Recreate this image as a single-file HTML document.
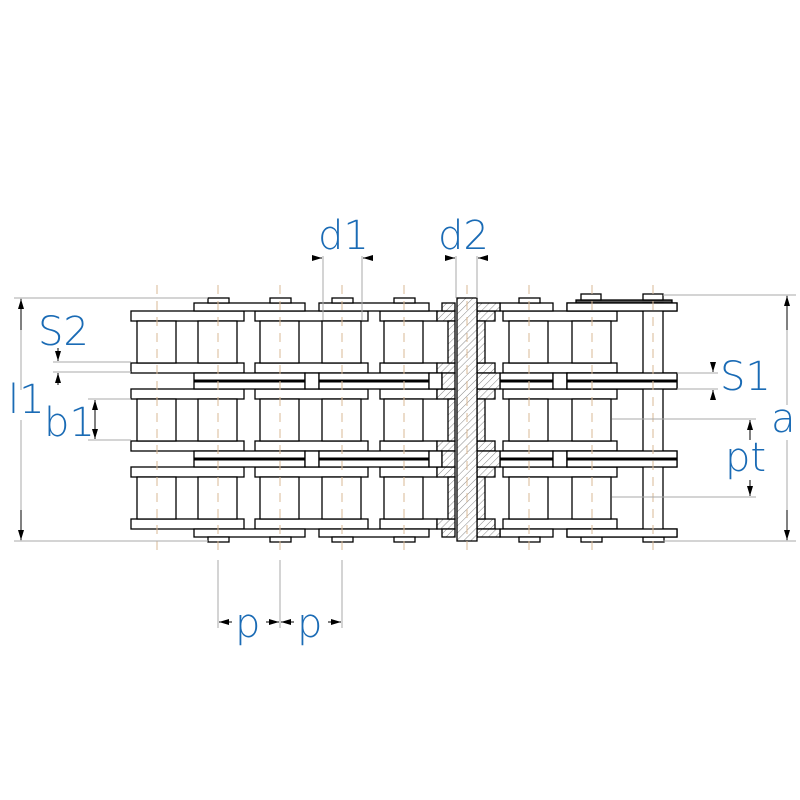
<!DOCTYPE html>
<html><head><meta charset="utf-8"><style>
html,body{margin:0;padding:0;background:#fff}
svg{display:block}
text{font-family:"DejaVu Sans","Liberation Sans",sans-serif;font-weight:200;fill:#1a6bb5;font-size:40px}
</style></head><body>
<svg width="800" height="800" viewBox="0 0 800 800" xmlns="http://www.w3.org/2000/svg">
<defs>
<pattern id="h" patternUnits="userSpaceOnUse" width="5" height="5" patternTransform="rotate(45)">
<rect width="5" height="5" fill="#fff"/><line x1="0" y1="0" x2="0" y2="5" stroke="#888" stroke-width="1"/>
</pattern>
<marker id="ar" viewBox="0 0 10 6" refX="10" refY="3" markerWidth="10" markerHeight="6" markerUnits="userSpaceOnUse" orient="auto">
<path d="M0,0 L10,3 L0,6 z" fill="#000"/></marker>
<g id="row" stroke="#000" stroke-width="1.3">
<g fill="#fff">
<rect x="131" y="311" width="113" height="10"/><rect x="255" y="311" width="113" height="10"/><rect x="380" y="311" width="57" height="10"/><rect x="503" y="311" width="114" height="10"/>
<rect x="131" y="363" width="113" height="10"/><rect x="255" y="363" width="113" height="10"/><rect x="380" y="363" width="57" height="10"/><rect x="503" y="363" width="114" height="10"/>
<rect x="137" y="321" width="39" height="42"/><rect x="198" y="321" width="39" height="42"/><rect x="260" y="321" width="39" height="42"/><rect x="322" y="321" width="39" height="42"/><rect x="384" y="321" width="39" height="42"/><rect x="509" y="321" width="39" height="42"/><rect x="572" y="321" width="39" height="42"/>
</g>
<g fill="url(#h)">
<rect x="437" y="311" width="18" height="10"/><rect x="437" y="363" width="18" height="10"/><rect x="448" y="321" width="7" height="42"/>
<rect x="477" y="311" width="18" height="10"/><rect x="477" y="363" width="18" height="10"/><rect x="477" y="321" width="8" height="42"/>
</g>
</g>
<g id="mid" stroke="#000" stroke-width="1.3">
<g fill="#fff">
<rect x="194" y="373" width="111" height="16"/><rect x="305" y="373" width="14" height="16"/><rect x="319" y="373" width="110" height="16"/><rect x="429" y="373" width="13" height="16"/>
<rect x="500" y="373" width="53" height="16"/><rect x="553" y="373" width="14" height="16"/><rect x="567" y="373" width="110" height="16"/>
</g>
<g fill="url(#h)"><rect x="442" y="373" width="13" height="16"/><rect x="477" y="373" width="23" height="16"/></g>
<g stroke-width="3"><line x1="194" y1="381" x2="305" y2="381"/><line x1="319" y1="381" x2="429" y2="381"/><line x1="500" y1="381" x2="553" y2="381"/><line x1="567" y1="381" x2="677" y2="381"/></g>
</g>
<g id="strip" stroke="#000" stroke-width="1.3">
<g fill="#fff"><rect x="194" y="303" width="111" height="8"/><rect x="319" y="303" width="110" height="8"/><rect x="500" y="303" width="53" height="8"/><rect x="567" y="303" width="110" height="8"/></g>
<g fill="url(#h)"><rect x="442" y="303" width="13" height="8"/><rect x="477" y="303" width="23" height="8"/></g>
</g>
</defs>

<use href="#row"/>
<use href="#row" y="78"/>
<use href="#row" y="156"/>
<use href="#strip"/>
<use href="#strip" y="226"/>
<use href="#mid"/>
<use href="#mid" y="78"/>

<!-- pin heads -->
<g stroke="#000" stroke-width="1.3" fill="#fff">
<rect x="208" y="298" width="21" height="5"/><rect x="270" y="298" width="21" height="5"/><rect x="332" y="298" width="21" height="5"/><rect x="394" y="298" width="21" height="5"/><rect x="519" y="298" width="21" height="5"/>
<rect x="208" y="537" width="21" height="5"/><rect x="270" y="537" width="21" height="5"/><rect x="332" y="537" width="21" height="5"/><rect x="394" y="537" width="21" height="5"/><rect x="519" y="537" width="21" height="5"/><rect x="581" y="537" width="21" height="5"/><rect x="643" y="537" width="21" height="5"/>
<rect x="576" y="300" width="96" height="3" fill="#555"/>
<rect x="581" y="294" width="20" height="6"/><rect x="643" y="294" width="20" height="6"/>
<rect x="643" y="303" width="20" height="234"/>
<rect x="457" y="298" width="20" height="243" fill="url(#h)"/>
</g>
<g stroke="#000" stroke-width="1.3" fill="#fff">
<rect x="567" y="303" width="110" height="8"/><rect x="567" y="529" width="110" height="8"/>
<rect x="567" y="373" width="110" height="16"/><rect x="567" y="451" width="110" height="16"/>
<line x1="567" y1="381" x2="677" y2="381" stroke-width="3"/><line x1="567" y1="459" x2="677" y2="459" stroke-width="3"/>
</g>

<!-- centerlines on top -->
<g stroke="#d8b896" stroke-width="1" stroke-dasharray="9,7">
<line x1="157" y1="285" x2="157" y2="556"/><line x1="218" y1="285" x2="218" y2="556"/><line x1="280" y1="285" x2="280" y2="556"/><line x1="342" y1="285" x2="342" y2="556"/><line x1="404" y1="285" x2="404" y2="556"/><line x1="467" y1="285" x2="467" y2="556"/><line x1="529" y1="285" x2="529" y2="556"/><line x1="592" y1="285" x2="592" y2="556"/><line x1="653" y1="285" x2="653" y2="556"/>
</g>

<!-- dimension lines -->
<g stroke="#aaa" stroke-width="1" fill="none">
<line x1="14" y1="298" x2="208" y2="298"/><line x1="14" y1="541" x2="208" y2="541"/>
<line x1="663" y1="295" x2="796" y2="295"/><line x1="663" y1="541" x2="796" y2="541"/>
<line x1="53" y1="362" x2="131" y2="362"/><line x1="53" y1="372" x2="131" y2="372"/>
<line x1="88" y1="399" x2="131" y2="399"/><line x1="88" y1="440" x2="131" y2="440"/>
<line x1="677" y1="373" x2="718" y2="373"/><line x1="677" y1="389" x2="718" y2="389"/>
<line x1="612" y1="419" x2="756" y2="419"/><line x1="612" y1="497" x2="756" y2="497"/>
<line x1="323" y1="256" x2="323" y2="320"/><line x1="362" y1="256" x2="362" y2="320"/>
<line x1="456" y1="256" x2="456" y2="298"/><line x1="477" y1="256" x2="477" y2="298"/>
<line x1="218" y1="560" x2="218" y2="628"/><line x1="280" y1="560" x2="280" y2="628"/><line x1="342" y1="560" x2="342" y2="628"/>
<line x1="21" y1="298" x2="21" y2="390"/><line x1="21" y1="420" x2="21" y2="541"/>
<line x1="787" y1="295" x2="787" y2="405"/><line x1="787" y1="440" x2="787" y2="541"/>
</g>
<g stroke="#000" stroke-width="1" fill="none">
<line x1="21" y1="330" x2="21" y2="299" marker-end="url(#ar)"/><line x1="21" y1="510" x2="21" y2="540" marker-end="url(#ar)"/>
<line x1="787" y1="330" x2="787" y2="296" marker-end="url(#ar)"/><line x1="787" y1="510" x2="787" y2="540" marker-end="url(#ar)"/>
<line x1="58" y1="348" x2="58" y2="361" marker-end="url(#ar)"/><line x1="58" y1="385" x2="58" y2="373" marker-end="url(#ar)"/>
<line x1="95" y1="420" x2="95" y2="400" marker-end="url(#ar)"/><line x1="95" y1="420" x2="95" y2="439" marker-end="url(#ar)"/>
<line x1="713" y1="362" x2="713" y2="372" marker-end="url(#ar)"/><line x1="713" y1="400" x2="713" y2="390" marker-end="url(#ar)"/>
<line x1="750" y1="440" x2="750" y2="420" marker-end="url(#ar)"/><line x1="750" y1="480" x2="750" y2="496" marker-end="url(#ar)"/>
<line x1="313" y1="258" x2="322" y2="258" marker-end="url(#ar)"/><line x1="372" y1="258" x2="363" y2="258" marker-end="url(#ar)"/>
<line x1="446" y1="258" x2="455" y2="258" marker-end="url(#ar)"/><line x1="487" y1="258" x2="478" y2="258" marker-end="url(#ar)"/>
<line x1="232" y1="622" x2="219" y2="622" marker-end="url(#ar)"/><line x1="266" y1="622" x2="279" y2="622" marker-end="url(#ar)"/>
<line x1="294" y1="622" x2="281" y2="622" marker-end="url(#ar)"/><line x1="328" y1="622" x2="341" y2="622" marker-end="url(#ar)"/>
</g>

<text x="38" y="345">S2</text>
<text x="8" y="413">l1</text>
<text x="44" y="436">b1</text>
<text x="318" y="249">d1</text>
<text x="438" y="249">d2</text>
<text x="720" y="390">S1</text>
<text x="771" y="432">a</text>
<text x="725" y="471">pt</text>
<text x="235" y="637">p</text>
<text x="297" y="637">p</text>
</svg>
</body></html>
